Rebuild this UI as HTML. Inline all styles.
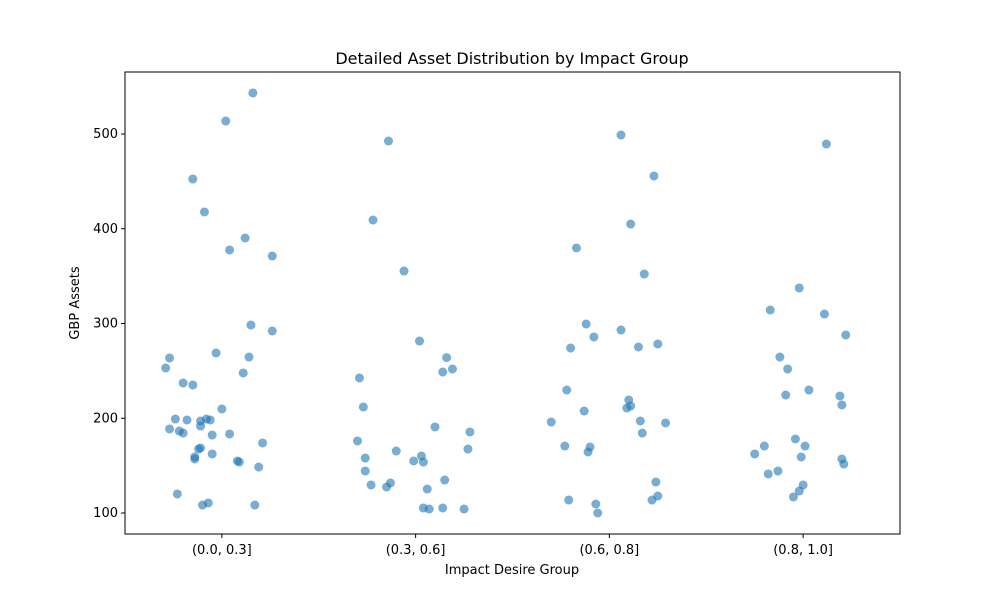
<!DOCTYPE html>
<html><head><meta charset="utf-8"><style>
body{margin:0;background:#fff}
svg{display:block;font-family:"DejaVu Sans","Liberation Sans",sans-serif}
</style></head><body>
<svg id="chart" width="1000" height="600" viewBox="0 0 1000 600">
<rect width="1000" height="600" fill="#fff"/>
<text x="512" y="64" text-anchor="middle" font-size="16" fill="#000">Detailed Asset Distribution by Impact Group</text>
<text x="512" y="574" text-anchor="middle" font-size="13" fill="#000">Impact Desire Group</text>
<text transform="translate(79,303) rotate(-90)" text-anchor="middle" font-size="13" fill="#000">GBP Assets</text>
<g id="marks"></g>
<g id="axes"></g>
</svg>
<script>
const categories = ["(0.0, 0.3]","(0.3, 0.6]","(0.6, 0.8]","(0.8, 1.0]"];
const yTicks = [100,200,300,400,500];
const g0Values = [543.3,513.7,452.5,417.7,390.2,377.6,371.2,298.4,292.1,268.9,263.6,264.6,253.0,247.8,237.2,235.1,209.8,199.2,198.2,199.2,198.2,197.1,191.8,188.7,186.5,184.4,182.3,183.4,173.9,168.6,167.5,162.3,159.1,157.0,154.9,153.8,148.5,120.1,110.6,108.4,108.4];
const g0Jitter = [0.16,0.02,-0.15,-0.09,0.12,0.04,0.26,0.15,0.26,-0.03,-0.27,0.14,-0.29,0.11,-0.20,-0.15,0,-0.24,-0.18,-0.08,-0.06,-0.11,-0.11,-0.27,-0.22,-0.20,-0.05,0.04,0.21,-0.11,-0.12,-0.05,-0.14,-0.14,0.08,0.09,0.19,-0.23,-0.07,-0.10,0.17];
const g1Values = [492.6,409.2,355.4,281.5,264,252.0,248.8,242.5,211.9,190.8,185.5,176.0,165.4,160.2,167.5,158.0,154.9,153.8,144.3,129.6,131.7,127.4,125.3,134.8,105.3,104.2,105.3,104.2];
const g1Jitter = [-0.14,-0.22,-0.06,0.02,0.16,0.19,0.14,-0.29,-0.27,0.10,0.28,-0.30,-0.10,0.03,0.27,-0.26,-0.01,0.04,-0.26,-0.23,-0.13,-0.15,0.06,0.15,0.04,0.07,0.14,0.25];
const g2Values = [498.9,455.7,405.0,379.7,352.2,299.5,293.1,285.8,274.1,275.2,278.4,229.8,219.3,207.6,210.8,212.9,196.0,197.1,195.0,184.4,170.7,169.7,164.4,132.7,113.7,113.7,117.9,109.5,100.0];
const g2Jitter = [0.06,0.23,0.11,-0.17,0.18,-0.12,0.06,-0.08,-0.20,0.15,0.25,-0.22,0.10,-0.13,0.09,0.11,-0.30,0.16,0.29,0.17,-0.23,-0.10,-0.11,0.24,-0.21,0.22,0.25,-0.07,-0.06];
const g3Values = [489.4,337.5,310.0,314.2,287.9,264.6,252.0,224.5,229.8,223.5,214.0,178.1,170.7,170.7,162.3,159.1,157.0,151.7,141.2,144.3,129.6,123.2,116.9];
const g3Jitter = [0.12,-0.02,0.11,-0.17,0.22,-0.12,-0.08,-0.09,0.03,0.19,0.20,-0.04,-0.20,0.01,-0.25,-0.01,0.20,0.21,-0.18,-0.13,0,-0.02,-0.05];

const NS="http://www.w3.org/2000/svg";
const L=125,R=900,T=72,B=534;
function xScale(i){return L+(i+0.5)/categories.length*(R-L);}
function yScale(v){return 513-(v-100)*(379/400);}
function mk(tag,attrs,parent){const e=document.createElementNS(NS,tag);for(const k in attrs)e.setAttribute(k,attrs[k]);parent.appendChild(e);return e;}
const marks=document.getElementById('marks');
const axes=document.getElementById('axes');
const groups=[[g0Values,g0Jitter],[g1Values,g1Jitter],[g2Values,g2Jitter],[g3Values,g3Jitter]];
groups.forEach(([vals,jit],gi)=>{
  vals.forEach((v,j)=>{
    const c=mk('circle',{cx:xScale(gi+jit[j]),cy:yScale(v),r:4.5,fill:'#1f77b4','fill-opacity':0.6},marks);
    
    
  });
});
const frame=mk('rect',{x:L,y:T,width:R-L,height:B-T,fill:'none',stroke:'#000','stroke-width':1},axes);


yTicks.forEach(t=>{
  const y=yScale(t);
  const tk=mk('line',{x1:L-4,x2:L,y1:y,y2:y,stroke:'#000'},axes);
  
  
  const tx=mk('text',{x:L-7,y:y+4,'text-anchor':'end','font-size':13,fill:'#000'},axes);
  tx.textContent=t;
  
  
});
categories.forEach((c,i)=>{
  const x=xScale(i);
  const tk=mk('line',{x1:x,x2:x,y1:B,y2:B+4,stroke:'#000'},axes);
  
  
  const tx=mk('text',{x:x,y:B+20,'text-anchor':'middle','font-size':13,fill:'#000'},axes);
  tx.textContent=c;
  
  
});
</script>
</body></html>
